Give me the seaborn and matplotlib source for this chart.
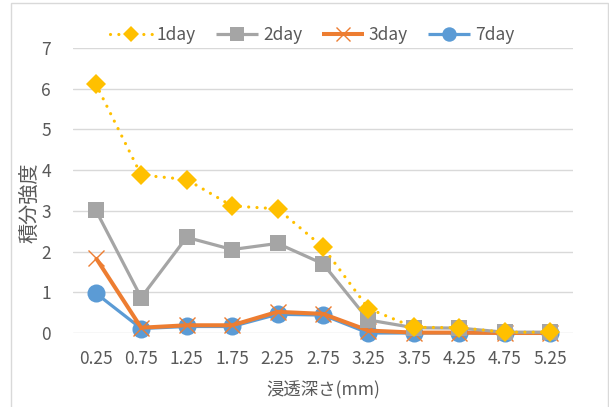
import matplotlib
matplotlib.use("Agg")
import matplotlib.pyplot as plt
from matplotlib.patches import Rectangle
import seaborn as sns
import pandas as pd

# Penetration depth categories (mm)
depths = ["0.25", "0.75", "1.25", "1.75", "2.25", "2.75", "3.25", "3.75", "4.25", "4.75", "5.25"]

# Integrated intensity per immersion time
day1 = [6.12, 3.88, 3.77, 3.12, 3.05, 2.11, 0.60, 0.14, 0.13, 0.02, 0.02]
day2 = [3.02, 0.87, 2.35, 2.05, 2.20, 1.70, 0.32, 0.13, 0.12, 0.02, 0.02]
day3 = [1.85, 0.13, 0.19, 0.19, 0.52, 0.47, 0.06, 0.01, 0.01, 0.00, 0.00]
day7 = [0.98, 0.11, 0.16, 0.16, 0.46, 0.44, 0.00, 0.00, 0.00, 0.00, 0.00]

series_names = ["1day", "2day", "3day", "7day"]
y_ticks = [0, 1, 2, 3, 4, 5, 6, 7]

sns.set_theme(style="white")
plt.rcParams["font.family"] = ["Noto Sans CJK JP", "DejaVu Sans"]

text_color = "#595959"
grid_color = "#d9d9d9"
fs = 12.5

fig = plt.figure(figsize=(6.09, 4.07), dpi=100)
ax = fig.add_axes([73 / 609, 1 - 333 / 407, 500 / 609, 285 / 407])

pos = list(range(len(depths)))
styles = {
    "1day": dict(color="#FFC000", marker="D", markersize=10.5, linewidth=2.3, z=6),
    "2day": dict(color="#A5A5A5", marker="s", markersize=12, linewidth=2.3, z=5),
    "3day": dict(color="#ED7D31", marker="x", markersize=12, linewidth=2.9, z=4),
    "7day": dict(color="#5B9BD5", marker="o", markersize=13, linewidth=2.3, z=3),
}
values = {"1day": day1, "2day": day2, "3day": day3, "7day": day7}

# draw back-to-front so the 1day series ends up on top
for name in ["7day", "3day", "2day", "1day"]:
    st = styles[name]
    df = pd.DataFrame({"depth": pos, "value": values[name]})
    sns.lineplot(data=df, x="depth", y="value", ax=ax, sort=False,
                 color=st["color"], marker=st["marker"],
                 markersize=st["markersize"], linewidth=st["linewidth"],
                 markeredgewidth=1.0 if name == "3day" else 0,
                 markeredgecolor=st["color"], label=name,
                 zorder=st["z"], clip_on=False)

handles = {}
for line in ax.get_lines():
    lab = line.get_label()
    if lab in styles:
        handles[lab] = line
        if lab == "1day":
            line.set_linestyle((0, (0.01, 2.6)))
            line.set_dash_capstyle("round")
        else:
            line.set_solid_capstyle("butt")

ax.set_xlim(-0.5, len(depths) - 0.5)
ax.set_ylim(0, 7)
ax.set_xticks(pos)
ax.set_xticklabels(depths)
ax.set_yticks(y_ticks)
ax.set_yticklabels([str(t) for t in y_ticks])
ax.tick_params(axis="both", length=0, colors=text_color, labelsize=fs)
ax.tick_params(axis="y", pad=16)
ax.tick_params(axis="x", pad=12)

ax.grid(axis="y", color=grid_color, linewidth=1.0)
ax.grid(axis="x", visible=False)
ax.set_axisbelow(True)
for sp in ax.spines.values():
    sp.set_visible(False)

ax.set_xlabel("浸透深さ(mm)", color=text_color, fontsize=fs, va="center")
ax.set_ylabel("積分強度", color=text_color, fontsize=14.5, va="center", ha="center")
ax.xaxis.set_label_coords(0.5, -(390 - 333) / 285)
ax.yaxis.set_label_coords((30 - 73) / 500, (333 - 203) / 285)

if ax.get_legend() is not None:
    ax.get_legend().remove()
fig.legend([handles[n] for n in series_names], series_names,
           loc="center", bbox_to_anchor=(312 / 609, 1 - 35 / 407),
           ncol=4, frameon=False, fontsize=fs, labelcolor=text_color,
           handlelength=2.4, handletextpad=0.3, columnspacing=1.15,
           markerscale=0.8)

# chart-area frame
fig.patches.append(Rectangle((11 / 609, -0.02), (608 - 11) / 609, 1.02 - 3 / 407,
                             transform=fig.transFigure, fill=False,
                             edgecolor=grid_color, linewidth=1.0))

fig.savefig("out.png", dpi=100)
